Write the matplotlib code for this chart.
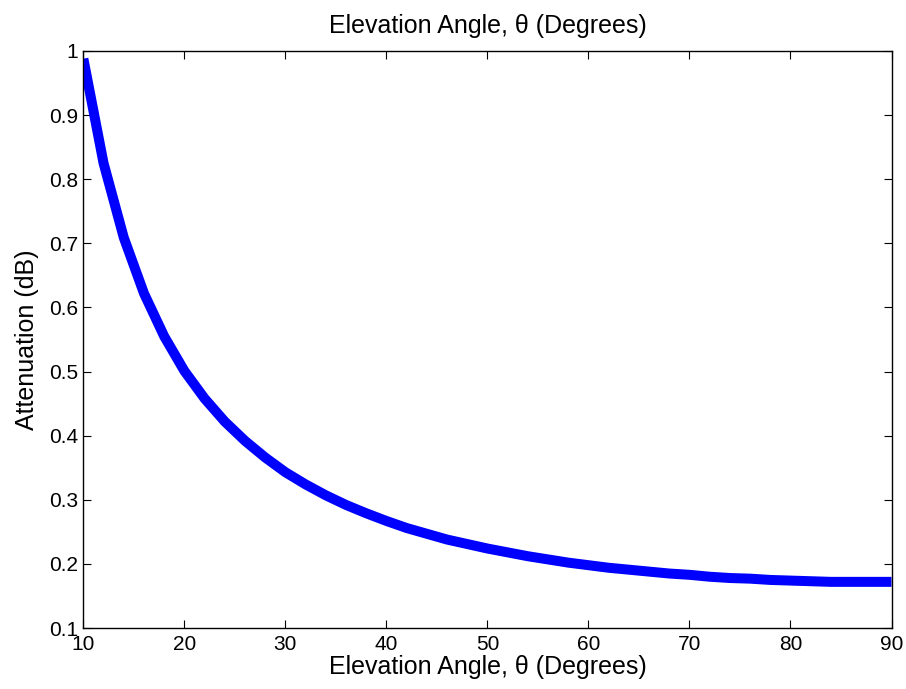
import numpy as np
import matplotlib
matplotlib.use('Agg')
import matplotlib.pyplot as plt

# 데이터
angle = [10, 12, 14, 16, 18, 20, 22, 24, 26, 28, 30, 32, 34, 36, 38, 40,
         42, 44, 46, 48, 50, 52, 54, 56, 58, 60, 62, 64, 66, 68, 70, 72,
         74, 76, 78, 80, 82, 84, 86, 88, 90]
atten = [0.988, 0.825, 0.709, 0.622, 0.555, 0.501, 0.458, 0.422, 0.392,
         0.366, 0.343, 0.324, 0.307, 0.292, 0.279, 0.267, 0.256, 0.247,
         0.238, 0.231, 0.224, 0.218, 0.212, 0.207, 0.202, 0.198, 0.194,
         0.191, 0.188, 0.185, 0.183, 0.180, 0.178, 0.177, 0.175, 0.174,
         0.173, 0.172, 0.172, 0.172, 0.172]

xticks = [10, 20, 30, 40, 50, 60, 70, 80, 90]
yticks = [0.1, 0.2, 0.3, 0.4, 0.5, 0.6, 0.7, 0.8, 0.9, 1]
ytick_labels = ['0.1', '0.2', '0.3', '0.4', '0.5', '0.6', '0.7', '0.8', '0.9', '1']

plt.rcParams['font.family'] = ['Liberation Sans', 'DejaVu Sans']

fig = plt.figure(figsize=(9.06, 6.89), dpi=100)
ax = fig.add_axes([0.092, 0.0885, 0.892, 0.8375])

ax.plot(angle, atten, color='#0000ff', linewidth=7.2, solid_capstyle='butt')

ax.set_xlim(10, 90)
ax.set_ylim(0.1, 1)
ax.set_xticks(xticks)
ax.set_yticks(yticks)
ax.set_yticklabels(ytick_labels)
ax.tick_params(direction='in', length=6, width=0.8, top=True, right=True,
               labelsize=15, colors='black')
ax.tick_params(axis='x', pad=5)
ax.tick_params(axis='y', pad=4)
for s in ax.spines.values():
    s.set_linewidth(1.0)

ax.set_title('Elevation Angle, θ (Degrees)', fontsize=18, pad=13)
ax.set_xlabel('Elevation Angle, θ (Degrees)', fontsize=18, labelpad=1)
ax.set_ylabel('Attenuation (dB)', fontsize=18, labelpad=7)

fig.savefig('out.png', dpi=100)
